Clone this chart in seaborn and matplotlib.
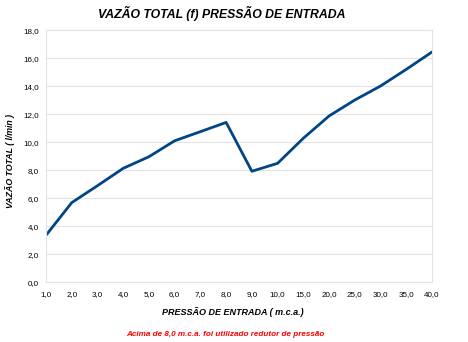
import matplotlib
matplotlib.use("Agg")
import matplotlib.pyplot as plt
import seaborn as sns
import pandas as pd

pressures = ["1,0", "2,0", "3,0", "4,0", "5,0", "6,0", "7,0", "8,0", "9,0", "10,0",
             "15,0", "20,0", "25,0", "30,0", "35,0", "40,0"]
flow = [3.36, 5.69, 6.9, 8.14, 8.97, 10.11, 10.76, 11.42, 7.93, 8.5,
        10.29, 11.88, 13.02, 14.02, 15.21, 16.45]
y_ticks = [0, 2, 4, 6, 8, 10, 12, 14, 16, 18]

title = "VAZÃO TOTAL (f) PRESSÃO DE ENTRADA"
xlabel = "PRESSÃO DE ENTRADA ( m.c.a.)"
ylabel = "VAZÃO TOTAL ( l/min )"
note = "Acima de 8,0 m.c.a. foi utilizado redutor de pressão"

sns.set_theme(style="white")
plt.rcParams["font.family"] = ["Liberation Sans", "DejaVu Sans"]
plt.rcParams["text.color"] = "black"

df = pd.DataFrame({"p": pressures, "q": flow})

fig = plt.figure(figsize=(4.68, 3.42), dpi=100)
ax = fig.add_axes([46/468, 1-282.3/342, (432-46)/468, (282.3-30.3)/342])
sns.lineplot(data=df, x="p", y="q", ax=ax, color="#004586", linewidth=2.0, sort=False)

ax.set_xlim(0, len(pressures)-1)
ax.set_ylim(0, 18)
ax.set_yticks(y_ticks)
ax.set_yticklabels([f"{v:.1f}".replace(".", ",") for v in y_ticks])
ax.set_xticks(range(len(pressures)))
ax.set_xticklabels(pressures)
ax.grid(axis="y", color="#e3e3e3", linewidth=0.8)
for s in ax.spines.values():
    s.set_color("#e3e3e3")
    s.set_linewidth(0.8)
ax.tick_params(axis="both", labelsize=5.8, labelcolor="black", pad=2)
ax.tick_params(axis="x", length=3, color="#d0d0d0", width=0.8, pad=3)
ax.tick_params(axis="y", length=3, color="#e3e3e3", width=0.8)
ax.set_xlabel("")
ax.set_ylabel("")

fig.text(221.5/468, 1-13/342, title, ha="center", va="center", color="black",
         fontsize=8.8, fontweight="bold", fontstyle="italic")
fig.text(232.5/468, 1-312/342, xlabel, ha="center", va="center", color="black",
         fontsize=6.5, fontweight="bold", fontstyle="italic")
fig.text(10/468, 1-161/342, ylabel, ha="center", va="center", rotation=90, color="black",
         fontsize=6.3, fontweight="bold", fontstyle="italic")
fig.text(225.5/468, 1-334/342, note, ha="center", va="center",
         fontsize=5.9, fontweight="bold", fontstyle="italic", color="#ff0000")

fig.savefig("out.png", dpi=100)
